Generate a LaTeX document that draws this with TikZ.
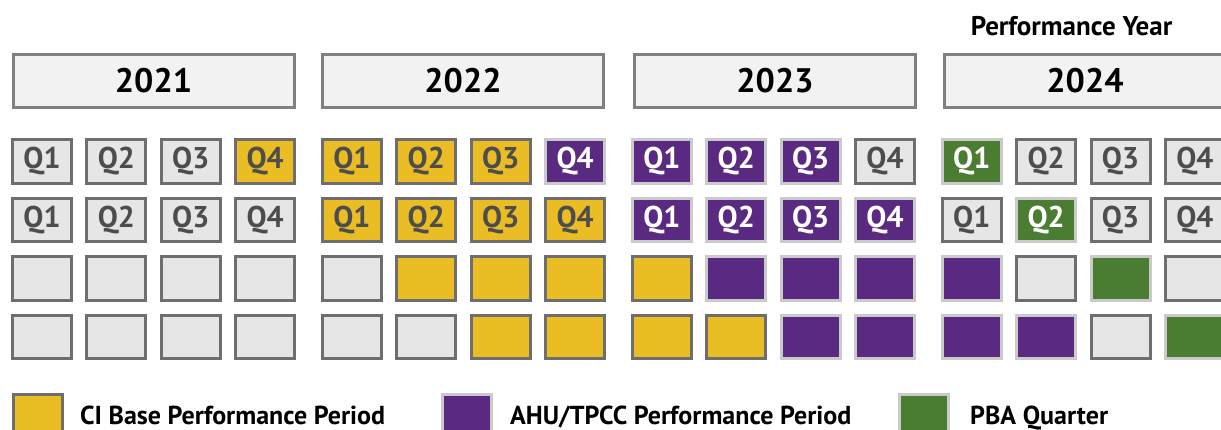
\documentclass[tikz,border=0pt]{standalone}
\usepackage{fontspec}
\setmainfont{PT Sans}
\definecolor{qgray}{HTML}{E6E6E6}
\definecolor{qborder}{HTML}{6E6E6E}
\definecolor{qlight}{HTML}{CACACA}
\definecolor{qtext}{HTML}{4D4D4D}
\definecolor{qyellow}{HTML}{EBBD25}
\definecolor{qpurple}{HTML}{5A2A82}
\definecolor{qgreen}{HTML}{4A7C31}
\definecolor{yfill}{HTML}{F2F2F2}
\definecolor{yborder}{HTML}{808080}
\begin{document}
\begin{tikzpicture}[x=1pt,y=-1pt,
  box/.style={draw, line width=3pt, minimum width=59pt, minimum height=43.5pt, inner sep=0pt,
    font=\bfseries\fontsize{30}{32}\selectfont},
  qg/.style={box, fill=qgray, draw=qborder, text=qtext},
  qy/.style={box, fill=qyellow, draw=qborder, text=qtext},
  qp/.style={box, fill=qpurple, draw=qlight, text=white},
  qn/.style={box, fill=qgreen, draw=qlight, text=white},
  yearbox/.style={draw=yborder, fill=yfill, line width=3pt, minimum width=281pt, minimum height=53pt,
    inner sep=0pt, font=\bfseries\fontsize{34}{36}\selectfont, text=black},
  legbox/.style={line width=3pt, minimum width=49pt, minimum height=49pt, inner sep=0pt},
  legtext/.style={anchor=base west, inner sep=0pt, font=\bfseries\fontsize{26}{30}\selectfont, text=black},
]
\useasboundingbox (0,0) rectangle (1221,429);
\clip (0,0) rectangle (1221,429);
\fill[white] (0,0) rectangle (1221,429);

% title
\node[anchor=base, inner sep=0pt, font=\bfseries\fontsize{27}{30}\selectfont] (title) at (1071.5,35.5) {Performance Year};

% year boxes
\node[yearbox] (y2021) at (153.5,81) {2021};
\node[yearbox] (y2022) at (463,81) {2022};
\node[yearbox] (y2023) at (775,81) {2023};
\node[yearbox] (y2024) at (1085,81) {2024};

% quarter grid
\foreach \r/\yy/\lab/\list in {
  1/161.5/1/{g,g,g,y,y,y,y,p,p,p,p,g,n,g,g,g},
  2/220/1/{g,g,g,g,y,y,y,y,p,p,p,p,g,n,g,g},
  3/278.5/0/{g,g,g,g,g,y,y,y,y,p,p,p,p,g,n,g},
  4/337/0/{g,g,g,g,g,g,y,y,y,y,p,p,p,p,g,n}} {
  \foreach \c [count=\i from 0] in \list {
    \pgfmathtruncatemacro{\yr}{\i/4}
    \pgfmathtruncatemacro{\qq}{mod(\i,4)}
    \pgfmathtruncatemacro{\qn}{\qq+1}
    \pgfmathsetmacro{\xx}{42+309.9*\yr+74.4*\qq}
    \ifnum\lab=1
      \node[q\c] (q\r-\i) at (\xx,\yy) {Q\qn};
    \else
      \node[q\c] (q\r-\i) at (\xx,\yy) {};
    \fi
  }
}

% legend
\node[legbox, fill=qyellow, draw=qborder] (lyel) at (38,418.5) {};
\node[legtext] (tyel) at (80,424) {CI Base Performance Period};
\node[legbox, fill=qpurple, draw=qlight] (lpur) at (467,418.5) {};
\node[legtext] (tpur) at (510,424) {AHU/TPCC Performance Period};
\node[legbox, fill=qgreen, draw=qlight] (lgrn) at (924,418.5) {};
\node[legtext] (tgrn) at (970,424) {PBA Quarter};
\end{tikzpicture}
\end{document}
